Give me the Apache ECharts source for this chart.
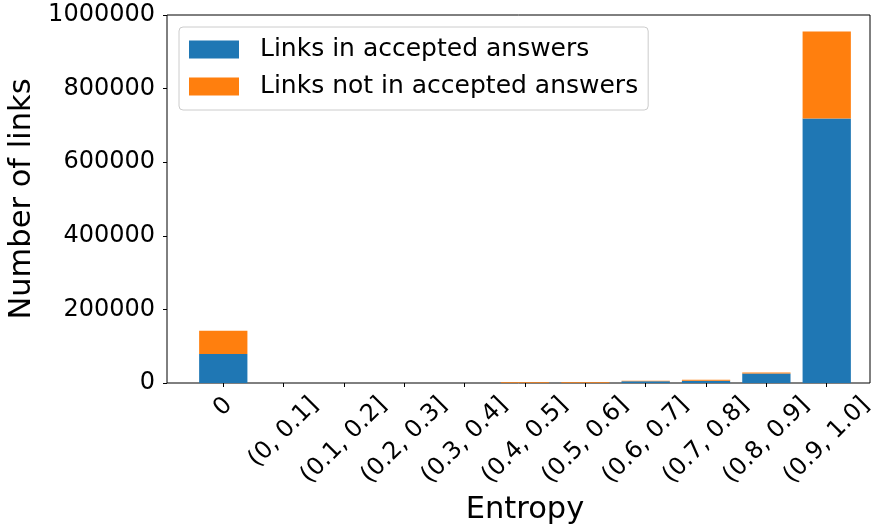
<!DOCTYPE html>
<html><head><meta charset="utf-8">
<script src="https://cdn.jsdelivr.net/npm/echarts@6/dist/echarts.min.js"></script>
<style>html,body{margin:0;padding:0;background:#fff}#c{width:873px;height:527px}</style>
</head><body><div id="c"></div>
<script>
const categories = ['0', '(0, 0.1]', '(0.1, 0.2]', '(0.2, 0.3]', '(0.3, 0.4]', '(0.4, 0.5]', '(0.5, 0.6]', '(0.6, 0.7]', '(0.7, 0.8]', '(0.8, 0.9]', '(0.9, 1.0]'];
const acceptedLinks = [79000, 0, 0, 0, 0, 400, 500, 4500, 6300, 25500, 719000];
const notAcceptedLinks = [63000, 0, 0, 0, 0, 2300, 2200, 1800, 2800, 2800, 236000];
const seriesNames = ['Links in accepted answers', 'Links not in accepted answers'];
const yMin = 0, yMax = 1000000, yStep = 200000;

const FONT = '"DejaVu Sans", sans-serif';
const tickFont = 24;
const ctx = document.createElement('canvas').getContext('2d');
ctx.font = tickFont + 'px "DejaVu Sans"';
const rich = {};
categories.forEach((c, i) => {
  const L = ctx.measureText(c).width;
  const p = 0.5 * (L + tickFont);
  rich['c' + i] = {padding: [p, p, 0, 0], fontSize: tickFont, fontFamily: FONT, lineHeight: tickFont, color: '#000'};
});

const chart = echarts.init(document.getElementById('c'), null, {renderer: 'canvas'});
chart.setOption({
  animation: false,
  backgroundColor: '#fff',
  grid: [
    {left: 167, top: 15, width: 703, height: 368, show: true, borderColor: '#000', borderWidth: 1, backgroundColor: 'transparent', containLabel: false, outerBoundsMode: 'none'},
    {left: 193.1, top: 15, width: 663.8, height: 368, containLabel: false, outerBoundsMode: 'none'}
  ],
  legend: {
    orient: 'vertical', left: 179, top: 27,
    padding: [10, 10, 11, 10],
    itemGap: 12, itemWidth: 50, itemHeight: 18, icon: 'rect',
    backgroundColor: 'rgba(255,255,255,0.8)', borderColor: '#cccccc', borderWidth: 1, borderRadius: 4,
    textStyle: {fontSize: 25, fontFamily: FONT, color: '#000', lineHeight: 24, padding: [0, 0, 0, 16]},
    data: seriesNames
  },
  xAxis: [
    {gridIndex: 0, type: 'value', show: false, min: 0, max: 1},
    {
      gridIndex: 1, type: 'category', data: categories,
      axisLine: {show: false},
      axisTick: {show: true, alignWithLabel: true, length: 4, lineStyle: {color: '#000'}},
      axisLabel: {
        interval: 0, rotate: 45, align: 'center', verticalAlign: 'middle', margin: 10,
        hideOverlap: false,
        formatter: (v, i) => '{c' + i + '|' + v + '}', rich: rich
      },
      name: 'Entropy', nameLocation: 'middle', nameGap: 111,
      nameTextStyle: {fontSize: 30.5, fontFamily: FONT, color: '#000'}
    }
  ],
  yAxis: [
    {gridIndex: 0, type: 'value', show: false, min: 0, max: 1},
    {
      gridIndex: 1, type: 'value', min: yMin, max: yMax, interval: yStep, offset: 26.1,
      splitLine: {show: false},
      axisLine: {show: false},
      axisTick: {show: true, length: 4, lineStyle: {color: '#000'}},
      axisLabel: {fontSize: tickFont, fontFamily: FONT, color: '#000', margin: 12, formatter: v => String(v)},
      name: 'Number of links', nameLocation: 'middle', nameGap: 125,
      nameTextStyle: {fontSize: 30.5, fontFamily: FONT, color: '#000'}
    }
  ],
  series: [
    {type: 'bar', name: seriesNames[0], stack: 'total', xAxisIndex: 1, yAxisIndex: 1, data: acceptedLinks, barWidth: '80%', itemStyle: {color: '#1f77b4'}},
    {type: 'bar', name: seriesNames[1], stack: 'total', xAxisIndex: 1, yAxisIndex: 1, data: notAcceptedLinks, barWidth: '80%', itemStyle: {color: '#ff7f0e'}}
  ]
});
</script></body></html>
